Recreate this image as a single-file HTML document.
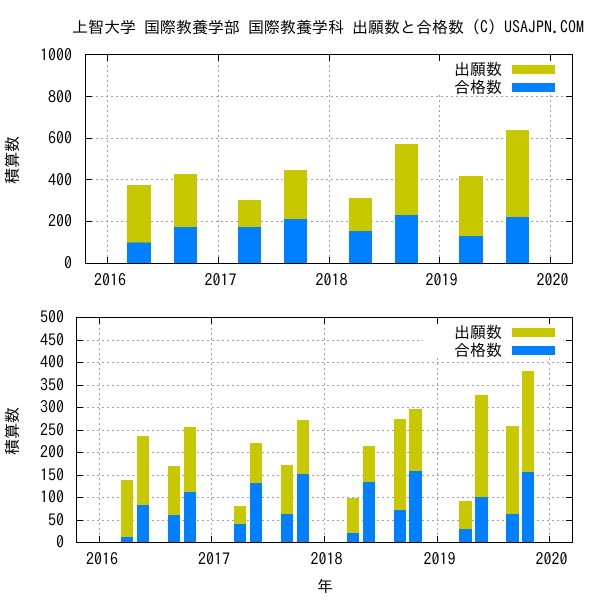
<!DOCTYPE html>
<html><head><meta charset="utf-8"><style>
html,body{margin:0;padding:0;background:#fff;}
svg{display:block;}
text{font-family:"IPAGothic","Liberation Sans","Noto Sans CJK JP",sans-serif;font-size:16px;fill:#000;}
</style></head><body>
<svg width="600" height="600" viewBox="0 0 600 600" xmlns="http://www.w3.org/2000/svg">
<rect width="600" height="600" fill="#fff"/>
<text x="72" y="27" dominant-baseline="central">上智大学 国際教養学部 国際教養学科 出願数と合格数 (C) USAJPN.COM</text>

<!-- ===== TOP CHART ===== -->
<g stroke="#a0a0a0" stroke-width="1" stroke-dasharray="2,3" fill="none" shape-rendering="crispEdges">
<line x1="86" y1="96.5" x2="572" y2="96.5"/>
<line x1="86" y1="138.5" x2="572" y2="138.5"/>
<line x1="86" y1="179.5" x2="572" y2="179.5"/>
<line x1="86" y1="221.5" x2="572" y2="221.5"/>
<line x1="107.5" y1="55" x2="107.5" y2="263"/>
<line x1="218.5" y1="55" x2="218.5" y2="263"/>
<line x1="329.5" y1="55" x2="329.5" y2="263"/>
<line x1="439.5" y1="55" x2="439.5" y2="263"/>
<line x1="550.5" y1="55" x2="550.5" y2="263"/>
</g>
<rect x="423" y="55" width="140" height="40" fill="#fff"/>
<g shape-rendering="crispEdges">
<rect x="127" y="185" width="24" height="78" fill="#c8c800"/><rect x="127" y="242.7" width="24" height="20.3" fill="#0080ff"/>
<rect x="174" y="174" width="23" height="89" fill="#c8c800"/><rect x="174" y="227" width="23" height="36" fill="#0080ff"/>
<rect x="238" y="200" width="23" height="63" fill="#c8c800"/><rect x="238" y="227" width="23" height="36" fill="#0080ff"/>
<rect x="284" y="170" width="23" height="93" fill="#c8c800"/><rect x="284" y="219" width="23" height="44" fill="#0080ff"/>
<rect x="349" y="198" width="23" height="65" fill="#c8c800"/><rect x="349" y="231" width="23" height="32" fill="#0080ff"/>
<rect x="395" y="144" width="23" height="119" fill="#c8c800"/><rect x="395" y="215" width="23" height="48" fill="#0080ff"/>
<rect x="459" y="176" width="24" height="87" fill="#c8c800"/><rect x="459" y="236" width="24" height="27" fill="#0080ff"/>
<rect x="506" y="130" width="23" height="133" fill="#c8c800"/><rect x="506" y="217" width="23" height="46" fill="#0080ff"/>
</g>
<text x="502" y="69" text-anchor="end" dominant-baseline="central">出願数</text>
<rect x="512" y="65" width="43" height="9" fill="#c8c800"/>
<text x="502" y="87" text-anchor="end" dominant-baseline="central">合格数</text>
<rect x="512" y="83" width="43" height="9" fill="#0080ff"/>
<g stroke="#000" stroke-width="1" fill="none" shape-rendering="crispEdges">
<rect x="85.5" y="54.5" width="487" height="209"/>
<path d="M86 96.5h6M86 138.5h6M86 179.5h6M86 221.5h6M572 96.5h-6M572 138.5h-6M572 179.5h-6M572 221.5h-6"/>
<path d="M107.5 263v-6M218.5 263v-6M329.5 263v-6M439.5 263v-6M550.5 263v-6M107.5 55v6M218.5 55v6M329.5 55v6M439.5 55v6M550.5 55v6"/>
</g>
<g text-anchor="end" dominant-baseline="central">
<text x="72" y="55">1000</text>
<text x="72" y="97">800</text>
<text x="72" y="138">600</text>
<text x="72" y="180">400</text>
<text x="72" y="221">200</text>
<text x="72" y="263">0</text>
</g>
<g text-anchor="middle" dominant-baseline="central">
<text x="110" y="280">2016</text>
<text x="220.5" y="280">2017</text>
<text x="331.5" y="280">2018</text>
<text x="441.5" y="280">2019</text>
<text x="552.5" y="280">2020</text>
</g>
<text transform="translate(12,160) rotate(-90)" text-anchor="middle" dominant-baseline="central">積算数</text>

<!-- ===== BOTTOM CHART ===== -->
<g stroke="#a0a0a0" stroke-width="1" stroke-dasharray="2,3" fill="none" shape-rendering="crispEdges">
<line x1="77" y1="520.5" x2="572" y2="520.5"/>
<line x1="77" y1="497.5" x2="572" y2="497.5"/>
<line x1="77" y1="475.5" x2="572" y2="475.5"/>
<line x1="77" y1="452.5" x2="572" y2="452.5"/>
<line x1="77" y1="430.5" x2="572" y2="430.5"/>
<line x1="77" y1="407.5" x2="572" y2="407.5"/>
<line x1="77" y1="385.5" x2="572" y2="385.5"/>
<line x1="77" y1="362.5" x2="572" y2="362.5"/>
<line x1="77" y1="340.5" x2="572" y2="340.5"/>
<line x1="99.5" y1="318" x2="99.5" y2="542"/>
<line x1="211.5" y1="318" x2="211.5" y2="542"/>
<line x1="324.5" y1="318" x2="324.5" y2="542"/>
<line x1="437.5" y1="318" x2="437.5" y2="542"/>
<line x1="549.5" y1="318" x2="549.5" y2="542"/>
</g>
<rect x="423" y="318" width="140" height="40" fill="#fff"/>
<g shape-rendering="crispEdges">
<rect x="121" y="480" width="12" height="62" fill="#c8c800"/><rect x="121" y="537" width="12" height="5" fill="#0080ff"/>
<rect x="137" y="436" width="12" height="106" fill="#c8c800"/><rect x="137" y="505" width="12" height="37" fill="#0080ff"/>
<rect x="168" y="466" width="12" height="76" fill="#c8c800"/><rect x="168" y="515" width="12" height="27" fill="#0080ff"/>
<rect x="184" y="427" width="12" height="115" fill="#c8c800"/><rect x="184" y="492" width="12" height="50" fill="#0080ff"/>
<rect x="234" y="506" width="12" height="36" fill="#c8c800"/><rect x="234" y="524" width="12" height="18" fill="#0080ff"/>
<rect x="250" y="443" width="12" height="99" fill="#c8c800"/><rect x="250" y="483" width="12" height="59" fill="#0080ff"/>
<rect x="281" y="465" width="12" height="77" fill="#c8c800"/><rect x="281" y="514" width="12" height="28" fill="#0080ff"/>
<rect x="297" y="420" width="12" height="122" fill="#c8c800"/><rect x="297" y="474" width="12" height="68" fill="#0080ff"/>
<rect x="347" y="498" width="12" height="44" fill="#c8c800"/><rect x="347" y="533" width="12" height="9" fill="#0080ff"/>
<rect x="363" y="446" width="12" height="96" fill="#c8c800"/><rect x="363" y="482" width="12" height="60" fill="#0080ff"/>
<rect x="394" y="419" width="12" height="123" fill="#c8c800"/><rect x="394" y="510" width="12" height="32" fill="#0080ff"/>
<rect x="409" y="409" width="13" height="133" fill="#c8c800"/><rect x="409" y="471" width="13" height="71" fill="#0080ff"/>
<rect x="459" y="501" width="13" height="41" fill="#c8c800"/><rect x="459" y="529" width="13" height="13" fill="#0080ff"/>
<rect x="475" y="395" width="13" height="147" fill="#c8c800"/><rect x="475" y="497" width="13" height="45" fill="#0080ff"/>
<rect x="506" y="426" width="13" height="116" fill="#c8c800"/><rect x="506" y="514" width="13" height="28" fill="#0080ff"/>
<rect x="522" y="371" width="12" height="171" fill="#c8c800"/><rect x="522" y="472" width="12" height="70" fill="#0080ff"/>
</g>
<text x="502" y="332" text-anchor="end" dominant-baseline="central">出願数</text>
<rect x="512" y="328" width="43" height="9" fill="#c8c800"/>
<text x="502" y="350" text-anchor="end" dominant-baseline="central">合格数</text>
<rect x="512" y="346" width="43" height="9" fill="#0080ff"/>
<g stroke="#000" stroke-width="1" fill="none" shape-rendering="crispEdges">
<rect x="76.5" y="317.5" width="496" height="225"/>
<path d="M77 520.5h6M77 497.5h6M77 475.5h6M77 452.5h6M77 430.5h6M77 407.5h6M77 385.5h6M77 362.5h6M77 340.5h6"/>
<path d="M572 520.5h-6M572 497.5h-6M572 475.5h-6M572 452.5h-6M572 430.5h-6M572 407.5h-6M572 385.5h-6M572 362.5h-6M572 340.5h-6"/>
<path d="M99.5 542v-6M211.5 542v-6M324.5 542v-6M437.5 542v-6M549.5 542v-6M99.5 318v6M211.5 318v6M324.5 318v6M437.5 318v6M549.5 318v6"/>
</g>
<g text-anchor="end" dominant-baseline="central">
<text x="64" y="317">500</text>
<text x="64" y="340">450</text>
<text x="64" y="362">400</text>
<text x="64" y="385">350</text>
<text x="64" y="407">300</text>
<text x="64" y="430">250</text>
<text x="64" y="452">200</text>
<text x="64" y="475">150</text>
<text x="64" y="497">100</text>
<text x="64" y="520">50</text>
<text x="64" y="542">0</text>
</g>
<g text-anchor="middle" dominant-baseline="central">
<text x="102" y="559">2016</text>
<text x="214" y="559">2017</text>
<text x="326.5" y="559">2018</text>
<text x="439.5" y="559">2019</text>
<text x="551.5" y="559">2020</text>
</g>
<text transform="translate(12,431) rotate(-90)" text-anchor="middle" dominant-baseline="central">積算数</text>
<text x="325" y="586" text-anchor="middle" dominant-baseline="central">年</text>
</svg>
</body></html>
